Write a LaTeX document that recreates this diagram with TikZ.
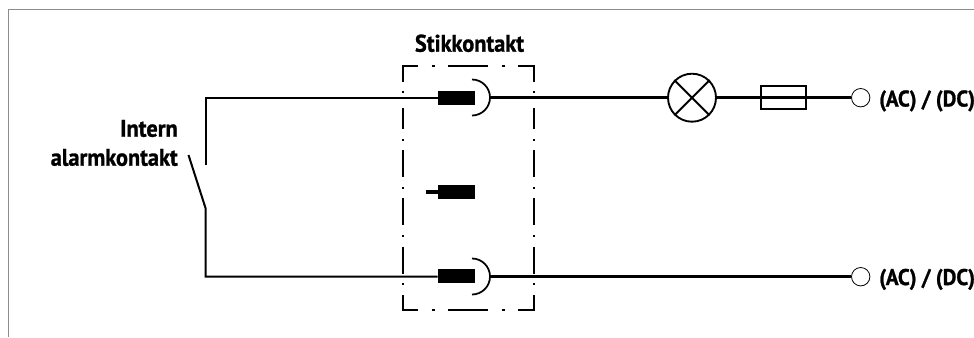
\documentclass[tikz,border=0pt]{standalone}
\usepackage{fontspec}
\setmainfont{PT Sans}[BoldFeatures={FakeStretch=0.93,FakeBold=1.1}]
\tikzset{
 wirethin/.style={line width=1.5pt,black},
 wirethick/.style={line width=2.3pt,black},
 frameline/.style={line width=0.8pt,black!45},
 boxdash/.style={line width=1.5pt,black},
 pin/.style={fill=black,draw=none,minimum width=27.75pt,minimum height=10.5pt,inner sep=0pt,rectangle},
 term/.style={circle,draw=black,line width=0.6pt,fill=white,minimum size=13.8pt,inner sep=0pt},
 lamp/.style={circle,draw=black,line width=1.4pt,fill=white,minimum size=36pt,inner sep=0pt},
 fusebox/.style={rectangle,draw=black,line width=1.4pt,minimum width=34pt,minimum height=17pt,inner sep=0pt},
 lbl/.style={font=\bfseries\fontsize{18pt}{21pt}\selectfont,inner sep=0pt,text=black},
 lblv/.style={font=\bfseries\fontsize{17pt}{20pt}\selectfont,inner sep=0pt,text=black}
}
\begin{document}
\begin{tikzpicture}[x=0.75pt,y=-0.75pt]
\useasboundingbox (0,0) rectangle (974,337);
\fill[white] (0,0) rectangle (974,337);
\draw[frameline] (974,9.5) -- (8.5,9.5) -- (8.5,337);
% pins
\node[pin] (p1) at (456.5,98) {};
\node[pin] (p2) at (456.5,192) {};
\node[pin] (p3) at (456.5,276) {};
% terminals etc.
\node[lamp] (lamp) at (692,97.7) {};
\node[fusebox] (fuse) at (783.5,97.7) {};
\node[term] (t1) at (860.7,97.7) {};
\node[term] (t2) at (860.7,276.7) {};
% coordinates
\coordinate (tl) at (205.5,97.5);
\coordinate (tle) at (205.5,165);
\coordinate (sw) at (188.5,155);
\coordinate (swb) at (205.5,208);
\coordinate (bl) at (205.5,276.5);
\coordinate (st) at (426,192);
\coordinate (a1) at (490,97.7);
\coordinate (a3) at (490,276.7);
% wires
\draw[wirethin] (tle) -- (tl) -- (tl -| p1.west);
\draw[wirethin] (sw) -- (swb) -- (bl) -- (bl -| p3.west);
\draw[wirethick] (st) -- (p2.west);
\draw[wirethick] (a1) -- (lamp.west);
\draw[wirethick] (lamp.east) -- (t1.west);
\draw[wirethick] (a3) -- (t2.west);
% lamp cross
\draw[line width=1.4pt] (lamp.45) -- (lamp.225) (lamp.135) -- (lamp.315);
% sockets
\draw[line width=1.3pt] (472,79.5) arc[start angle=-90,end angle=90,radius=18];
\draw[line width=1.3pt] (472,258.5) arc[start angle=-90,end angle=90,radius=18];
% dash-dot box
\draw[boxdash] (418,65.5) -- (402.5,65.5) -- (402.5,81.5);
\draw[boxdash] (518,65.5) -- (533.5,65.5) -- (533.5,81.5);
\draw[boxdash] (418,310) -- (402.5,310) -- (402.5,295);
\draw[boxdash] (518,310) -- (533.5,310) -- (533.5,295);
\draw[boxdash] (448,65.5) -- (488,65.5) (448,310) -- (488,310);
\draw[boxdash] (431.5,65.5) -- (434.5,65.5) (501.5,65.5) -- (504.5,65.5)
 (431.5,310) -- (434.5,310) (501.5,310) -- (504.5,310);
\foreach \x in {402.5,533.5}{
 \draw[boxdash] (\x,108) -- (\x,129) (\x,150) -- (\x,177) (\x,198) -- (\x,225) (\x,246.5) -- (\x,274);
 \draw[boxdash] (\x,90.5) -- (\x,92.5) (\x,139) -- (\x,141) (\x,187) -- (\x,189) (\x,235) -- (\x,237) (\x,283) -- (\x,285);
}
% labels
\node[lbl,anchor=base] (title) at (469.5,51.7) {Stikkontakt};
\node[lbl,anchor=base east] (in) at (178,136.7) {Intern};
\node[lbl,anchor=base east] (al) at (178,165.7) {alarmkontakt};
\node[lblv,anchor=base west] (v1) at (879,106.5) {(AC) / (DC)};
\node[lblv,anchor=base west] (v2) at (879,285) {(AC) / (DC)};
\end{tikzpicture}
\end{document}
